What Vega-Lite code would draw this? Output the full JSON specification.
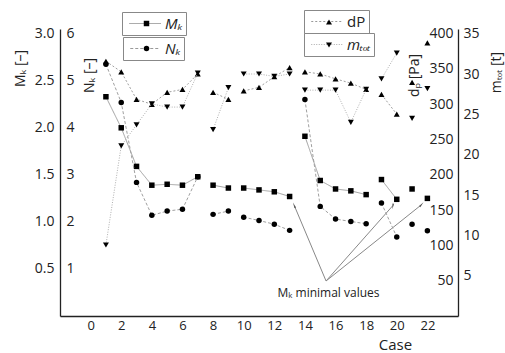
{
  "$schema": "https://vega.github.io/schema/vega-lite/v6.json",
  "width": 398,
  "height": 287,
  "autosize": {"type": "none"},
  "padding": {"left": 60, "top": 29, "right": 47, "bottom": 37},
  "background": "white",
  "config": {
    "view": {"stroke": null},
    "font": "Open Sans",
    "axis": {"grid": false, "ticks": false, "domainColor": "#222", "domainWidth": 1.3, "labelFont": "Open Sans", "labelFontSize": 14, "labelColor": "#222", "titleFont": "Open Sans", "titleFontWeight": "normal", "titleColor": "#222", "titleFontSize": 14, "labelFlush": false, "labelOverlap": false, "labelSeparation": 0},
    "legend": {"labelFont": "Open Sans", "labelFontSize": 15, "labelFontStyle": "italic", "labelColor": "#222"}
  },
  "datasets": {
    "main": [
      {"case": 1, "Mk": 2.33, "Nk": 5.35, "dP": 361, "mtot": 8.8, "seg": "a"},
      {"case": 2, "Mk": 2.00, "Nk": 4.54, "dP": 346, "mtot": 21.1, "seg": "a"},
      {"case": 3, "Mk": 1.59, "Nk": 2.84, "dP": 307, "mtot": 23.7, "seg": "a"},
      {"case": 4, "Mk": 1.39, "Nk": 2.14, "dP": 300, "mtot": 26.3, "seg": "a"},
      {"case": 5, "Mk": 1.40, "Nk": 2.23, "dP": 317, "mtot": 25.9, "seg": "a"},
      {"case": 6, "Mk": 1.39, "Nk": 2.27, "dP": 321, "mtot": 25.9, "seg": "a"},
      {"case": 7, "Mk": 1.48, "Nk": 2.96, "dP": 343, "mtot": 30.1, "seg": "a"},
      {"case": 8, "Mk": 1.39, "Nk": 2.16, "dP": 317, "mtot": 23.1, "seg": "b"},
      {"case": 9, "Mk": 1.36, "Nk": 2.23, "dP": 307, "mtot": 28.3, "seg": "b"},
      {"case": 10, "Mk": 1.36, "Nk": 2.10, "dP": 319, "mtot": 30.0, "seg": "c"},
      {"case": 11, "Mk": 1.34, "Nk": 2.03, "dP": 324, "mtot": 30.0, "seg": "c"},
      {"case": 12, "Mk": 1.32, "Nk": 1.95, "dP": 339, "mtot": 29.7, "seg": "c"},
      {"case": 13, "Mk": 1.27, "Nk": 1.82, "dP": 352, "mtot": 30.0, "seg": "c"},
      {"case": 14, "Mk": 1.91, "Nk": 4.60, "dP": 346, "mtot": 28.0, "seg": "d"},
      {"case": 15, "Mk": 1.44, "Nk": 2.33, "dP": 343, "mtot": 28.0, "seg": "d"},
      {"case": 16, "Mk": 1.35, "Nk": 2.06, "dP": 336, "mtot": 28.0, "seg": "d"},
      {"case": 17, "Mk": 1.33, "Nk": 2.01, "dP": 330, "mtot": 24.0, "seg": "d"},
      {"case": 18, "Mk": 1.29, "Nk": 1.96, "dP": 321, "mtot": 28.1, "seg": "d"},
      {"case": 19, "Mk": 1.45, "Nk": 2.40, "dP": 314, "mtot": 29.4, "seg": "e"},
      {"case": 20, "Mk": 1.24, "Nk": 1.68, "dP": 286, "mtot": 32.6, "seg": "e"},
      {"case": 21, "Mk": 1.35, "Nk": 1.95, "dP": 331, "mtot": 24.5, "seg": "f"},
      {"case": 22, "Mk": 1.25, "Nk": 1.81, "dP": 387, "mtot": 28.2, "seg": "g"}
    ],
    "arrows": [
      {"case": 15.38, "Mk": 0.372, "case1": 13.32, "Mk1": 1.168, "target": "13"},
      {"case": 15.38, "Mk": 0.372, "case1": 19.75, "Mk1": 1.174, "target": "20"},
      {"case": 15.38, "Mk": 0.372, "case1": 21.58, "Mk1": 1.178, "target": "22"}
    ],
    "note": [
      {"case": 15.54, "Mk": 0.245, "label": "Mₖ minimal values"}
    ]
  },
  "encoding": {
    "x": {"field": "case", "type": "quantitative", "scale": {"domain": [-2, 24], "nice": false, "zero": false},
      "axis": {"values": [0, 2, 4, 6, 8, 10, 12, 14, 16, 18, 20, 22], "tickCount": 13, "labelOverlap": false, "labelSeparation": 0, "labelBound": false, "labelFontSize": 13, "title": "Case", "titleX": 335, "titleY": 28, "titleAlign": "center", "titleBaseline": "middle", "titleFontSize": 15, "labelPadding": 3}}
  },
  "layer": [
    {
      "layer": [
        {
          "data": {"name": "main"},
          "mark": {"type": "line", "color": "#a0a0a0", "strokeWidth": 1},
          "encoding": {
            "y": {"field": "Mk", "type": "quantitative", "scale": {"domain": [0, 3.05], "nice": false}, "axis": {"orient": "left", "values": [0.5, 1, 1.5, 2, 2.5, 3], "format": ".1f", "title": "Mₖ [–]", "titleX": -40, "titleY": 39, "titleAngle": 270, "titleAlign": "center", "titleBaseline": "middle", "labelPadding": 6}},
            "detail": {"field": "seg"},
            "strokeDash": {"datum": "Mₖ", "type": "nominal", "scale": {"domain": ["Mₖ"], "range": [[1, 0]]},
              "legend": {"orient": "none", "legendX": 62, "legendY": -17, "title": null, "symbolType": "M-0.53,0H3.44", "symbolSize": 256, "symbolStrokeColor": "#999", "symbolStrokeWidth": 1, "labelOffset": 23, "strokeColor": "#888", "padding": 3}}
          }
        },
        {
          "data": {"name": "main"},
          "mark": {"type": "point", "filled": true, "opacity": 1, "color": "black", "size": 30},
          "encoding": {
            "y": {"field": "Mk", "type": "quantitative"},
            "shape": {"datum": "Mk marker", "type": "nominal", "scale": {"domain": ["Mk marker"], "range": ["square"]},
              "legend": {"orient": "none", "legendX": 83, "legendY": -9, "title": null, "labelExpr": "''", "labelFontSize": 1, "labelOffset": 0, "symbolSize": 30, "padding": 0}}
          }
        },
        {
          "data": {"name": "arrows"},
          "mark": {"type": "rule", "color": "#888", "strokeWidth": 1},
          "encoding": {
            "y": {"field": "Mk", "type": "quantitative"},
            "x2": {"field": "case1"},
            "y2": {"field": "Mk1"}
          }
        },
        {
          "data": {"name": "arrows"},
          "mark": {"type": "point", "shape": "wedge", "filled": true, "color": "#555", "size": 45, "opacity": 1},
          "encoding": {
            "x": {"field": "case1", "type": "quantitative",
              "axis": {"values": [0, 2, 4, 6, 8, 10, 12, 14, 16, 18, 20, 22], "tickCount": 13, "labelOverlap": false, "labelSeparation": 0, "labelBound": false, "labelFontSize": 13, "title": "Case", "titleX": 335, "titleY": 28, "titleAlign": "center", "titleBaseline": "middle", "titleFontSize": 15, "labelPadding": 3}},
            "y": {"field": "Mk1", "type": "quantitative"},
            "angle": {"field": "target", "type": "nominal", "scale": {"domain": ["13", "20", "22"], "range": [337, 42, 51]}, "legend": null}
          }
        },
        {
          "data": {"name": "note"},
          "mark": {"type": "text", "font": "Open Sans", "fontSize": 12, "color": "#222", "align": "center", "baseline": "middle"},
          "encoding": {
            "y": {"field": "Mk", "type": "quantitative"},
            "text": {"field": "label"}
          }
        }
      ]
    },
    {
      "layer": [
        {
          "data": {"name": "main"},
          "mark": {"type": "line", "color": "#a0a0a0", "strokeWidth": 1},
          "encoding": {
            "y": {"field": "Nk", "type": "quantitative", "scale": {"domain": [0, 6.1], "nice": false}, "axis": {"orient": "right", "offset": -398, "domain": false, "values": [1, 2, 3, 4, 5, 6], "title": "Nₖ [–]", "titleX": 29, "titleY": 46, "titleAngle": 270, "titleAlign": "center", "titleBaseline": "middle", "labelPadding": 6}},
            "detail": {"field": "seg"},
            "strokeDash": {"datum": "Nₖ", "type": "nominal", "scale": {"domain": ["Nₖ"], "range": [[3, 2]]},
              "legend": {"orient": "none", "legendX": 63, "legendY": 8, "title": null, "symbolType": "M-0.53,0H3.2", "symbolSize": 256, "symbolStrokeColor": "#999", "symbolStrokeWidth": 1, "labelOffset": 22, "strokeColor": "#888", "padding": 3}}
          }
        },
        {
          "data": {"name": "main"},
          "mark": {"type": "point", "filled": true, "opacity": 1, "color": "black", "size": 30},
          "encoding": {
            "y": {"field": "Nk", "type": "quantitative"},
            "shape": {"datum": "Nk marker", "type": "nominal", "scale": {"domain": ["Nk marker"], "range": ["circle"]},
              "legend": {"orient": "none", "legendX": 83, "legendY": 16, "title": null, "labelExpr": "''", "labelFontSize": 1, "labelOffset": 0, "symbolSize": 30, "padding": 0}}
          }
        }
      ]
    },
    {
      "layer": [
        {
          "data": {"name": "main"},
          "mark": {"type": "line", "color": "#a0a0a0", "strokeWidth": 1},
          "encoding": {
            "y": {"field": "dP", "type": "quantitative", "scale": {"domain": [0, 406.67], "nice": false}, "axis": {"orient": "left", "offset": -398, "domain": false, "values": [50, 100, 150, 200, 250, 300, 350, 400], "title": "dₚ [Pa]", "titleX": -44, "titleY": 46, "titleAngle": 270, "titleAlign": "center", "titleBaseline": "middle", "labelPadding": 5}},
            "detail": {"field": "seg"},
            "strokeDash": {"datum": "dP", "type": "nominal", "scale": {"domain": ["dP"], "range": [[2, 2]]},
              "legend": {"orient": "none", "legendX": 244, "legendY": -19, "title": null, "labelFontStyle": "normal", "symbolType": "M-0.53,0H3.44", "symbolSize": 256, "symbolStrokeColor": "#999", "symbolStrokeWidth": 1, "labelOffset": 23, "strokeColor": "#888", "padding": 3}}
          }
        },
        {
          "data": {"name": "main"},
          "mark": {"type": "point", "filled": true, "opacity": 1, "color": "black", "size": 36},
          "encoding": {
            "y": {"field": "dP", "type": "quantitative"},
            "shape": {"datum": "dP marker", "type": "nominal", "scale": {"domain": ["dP marker"], "range": ["triangle-up"]},
              "legend": {"orient": "none", "legendX": 265, "legendY": -11, "title": null, "labelExpr": "''", "labelFontSize": 1, "labelOffset": 0, "symbolSize": 36, "padding": 0}}
          }
        }
      ]
    },
    {
      "layer": [
        {
          "data": {"name": "main"},
          "mark": {"type": "line", "color": "#b0b0b0", "strokeWidth": 1},
          "encoding": {
            "y": {"field": "mtot", "type": "quantitative", "scale": {"domain": [0, 35.58], "nice": false}, "axis": {"orient": "right", "values": [5, 10, 15, 20, 25, 30, 35], "title": "mₜₒₜ [t]", "titleX": 38, "titleY": 43, "titleAngle": 270, "titleAlign": "center", "titleBaseline": "middle", "labelPadding": 5}},
            "detail": {"field": "seg"},
            "strokeDash": {"datum": "mₜₒₜ", "type": "nominal", "scale": {"domain": ["mₜₒₜ"], "range": [[1, 1.5]]},
              "legend": {"orient": "none", "legendX": 244, "legendY": 4, "title": null, "symbolType": "M-0.53,0H3.44", "symbolSize": 256, "symbolStrokeColor": "#aaa", "symbolStrokeWidth": 1, "labelOffset": 23, "strokeColor": "#888", "padding": 3}}
          }
        },
        {
          "data": {"name": "main"},
          "mark": {"type": "point", "filled": true, "opacity": 1, "color": "black", "size": 36},
          "encoding": {
            "y": {"field": "mtot", "type": "quantitative"},
            "shape": {"datum": "mtot marker", "type": "nominal", "scale": {"domain": ["mtot marker"], "range": ["triangle-down"]},
              "legend": {"orient": "none", "legendX": 265, "legendY": 12, "title": null, "labelExpr": "''", "labelFontSize": 1, "labelOffset": 0, "symbolSize": 36, "padding": 0}}
          }
        }
      ]
    }
  ],
  "resolve": {
    "scale": {"y": "independent", "shape": "independent", "strokeDash": "independent"},
    "axis": {"y": "independent"},
    "legend": {"shape": "independent", "strokeDash": "independent"}
  }
}
